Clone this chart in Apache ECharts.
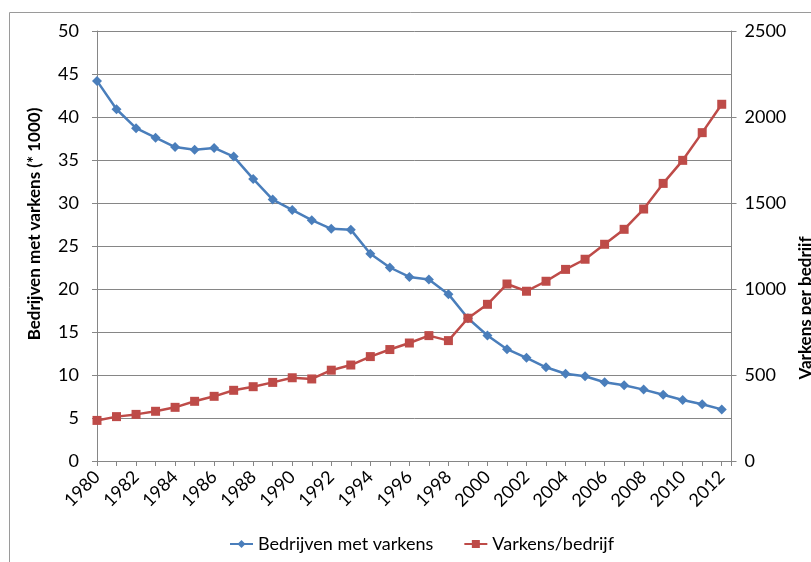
<!DOCTYPE html>
<html>
<head>
<meta charset="utf-8">
<script src="https://cdn.jsdelivr.net/npm/echarts@6/dist/echarts.min.js"></script>
<style>
html,body{margin:0;padding:0;background:#fff;}
#chart{width:811px;height:562px;}
</style>
</head>
<body>
<div id="chart"></div>
<script>
const years = [1980,1981,1982,1983,1984,1985,1986,1987,1988,1989,1990,1991,1992,1993,1994,1995,1996,1997,1998,1999,2000,2001,2002,2003,2004,2005,2006,2007,2008,2009,2010,2011,2012];
const bedrijven = [44.2,40.9,38.7,37.6,36.5,36.2,36.4,35.4,32.8,30.4,29.2,28.0,27.0,26.9,24.1,22.5,21.4,21.1,19.4,16.6,14.6,13.0,12.0,10.9,10.15,9.85,9.15,8.8,8.3,7.7,7.1,6.6,6.0];
const varkensPerBedrijf = [236,258,271,289,312,347,376,411,432,457,484,477,528,558,607,648,686,729,700,830,911,1029,987,1045,1114,1173,1260,1347,1465,1614,1748,1909,2074];
const leftTicks = {min:0, max:50, interval:5};
const rightTicks = {min:0, max:2500, interval:500};

const font = 'Lato, "Open Sans", sans-serif';
const gray = '#868686';
const chart = echarts.init(document.getElementById('chart'));
chart.setOption({
  animation:false,
  backgroundColor:'#fff',
  grid:{left:97, right:79.5, top:31, bottom:101},
  graphic:[
    {type:'rect', shape:{x:9.5,y:12.5,width:900,height:700}, style:{fill:'none', stroke:'#9a9a9a', lineWidth:1}, silent:true, z:-1},
    {type:'text', x:35, y:224, rotation:Math.PI/2, style:{text:'Bedrijven met varkens (* 1000)', font:'bold 17px '+font, fill:'#000', textAlign:'center', textVerticalAlign:'middle'}},
    {type:'text', x:806, y:308, rotation:Math.PI/2, style:{text:'Varkens per bedrijf', font:'bold 17px '+font, fill:'#000', textAlign:'center', textVerticalAlign:'middle'}}
  ],
  legend:{
    bottom:4, left:224, itemWidth:23, itemHeight:10, itemGap:30,
    textStyle:{fontFamily:font, fontSize:18, color:'#000'},
    data:['Bedrijven met varkens','Varkens/bedrijf']
  },
  xAxis:{
    type:'value', min:1980, max:2012.5, interval:1,
    axisLine:{show:true, lineStyle:{color:gray}},
    axisTick:{show:true, length:5, lineStyle:{color:gray}},
    splitLine:{show:false},
    axisLabel:{
      rotate:45, margin:13, fontFamily:font, fontSize:18, color:'#000',
      showMinLabel:true, showMaxLabel:true,
      formatter:function(v){ return (Number.isInteger(v) && v%2===0) ? String(v) : ''; }
    }
  },
  yAxis:[
    {type:'value', min:leftTicks.min, max:leftTicks.max, interval:leftTicks.interval, position:'left',
     axisLine:{show:true, lineStyle:{color:gray}},
     axisTick:{show:true, length:5, lineStyle:{color:gray}},
     splitLine:{show:true, lineStyle:{color:gray, width:1}},
     axisLabel:{margin:18, fontFamily:font, fontSize:18, color:'#000'}},
    {type:'value', min:rightTicks.min, max:rightTicks.max, interval:rightTicks.interval, position:'right',
     axisLine:{show:true, lineStyle:{color:gray}},
     axisTick:{show:true, length:5, lineStyle:{color:gray}},
     splitLine:{show:false},
     axisLabel:{margin:13, fontFamily:font, fontSize:18, color:'#000', formatter:function(v){return String(v);}}}
  ],
  series:[
    {name:'Bedrijven met varkens', type:'line', yAxisIndex:0,
     data:years.map((y,i)=>[y,bedrijven[i]]),
     symbol:'diamond', symbolSize:10, showAllSymbol:true,
     lineStyle:{color:'#4A7EBB', width:2.5}, itemStyle:{color:'#4A7EBB'}},
    {name:'Varkens/bedrijf', type:'line', yAxisIndex:1,
     data:years.map((y,i)=>[y,varkensPerBedrijf[i]]),
     symbol:'rect', symbolSize:9, showAllSymbol:true,
     lineStyle:{color:'#BE4B48', width:2.5}, itemStyle:{color:'#BE4B48'}}
  ]
});
</script>
</body>
</html>
